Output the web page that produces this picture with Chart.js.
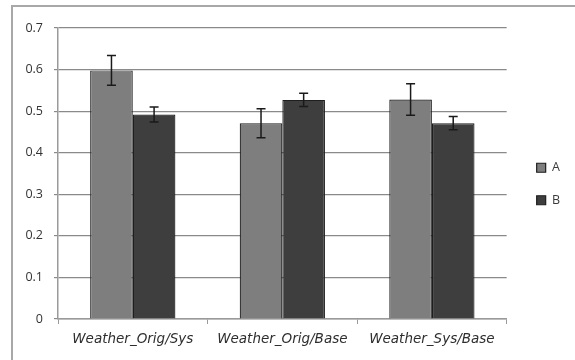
<!DOCTYPE html>
<html lang="en">

<head>
    <meta charset="UTF-8">
    <title>Weather A/B</title>
    <style>
        body {
            margin: 0;
            padding: 0;
            background-color: #fff;
        }
    </style>
</head>

<body>
    <canvas id="chart" width="575" height="360"></canvas>

    <script src="https://cdn.jsdelivr.net/npm/chart.js"></script>
    <script>
        const categories = ['Weather_Orig/Sys', 'Weather_Orig/Base', 'Weather_Sys/Base'];
        const seriesA = [0.598, 0.471, 0.528];
        const seriesB = [0.492, 0.527, 0.471];
        const errorsA = [0.036, 0.035, 0.038];
        const errorsB = [0.018, 0.016, 0.016];
        const yTicks = [0, 0.1, 0.2, 0.3, 0.4, 0.5, 0.6, 0.7];

        // light frame around the figure, cropped on the right and bottom
        const framePlugin = {
            id: 'frame',
            beforeDraw(chart) {
                const ctx = chart.ctx;
                ctx.save();
                ctx.strokeStyle = '#a8a8a8';
                ctx.lineWidth = 2;
                ctx.beginPath();
                ctx.moveTo(12, 360);
                ctx.lineTo(12, 6);
                ctx.lineTo(575, 6);
                ctx.stroke();
                ctx.restore();
            }
        };

        // error bars, taken from the errors arrays through the y scale
        const errorBarPlugin = {
            id: 'errorBars',
            afterDatasetsDraw(chart) {
                const ctx = chart.ctx;
                const yScale = chart.scales.y;
                chart.data.datasets.forEach((ds, di) => {
                    const meta = chart.getDatasetMeta(di);
                    meta.data.forEach((bar, i) => {
                        const v = ds.data[i];
                        const e = ds.errors[i];
                        const top = yScale.getPixelForValue(v + e);
                        const bottom = yScale.getPixelForValue(v - e);
                        ctx.save();
                        ctx.strokeStyle = '#1a1a1a';
                        ctx.lineWidth = 1.5;
                        ctx.beginPath();
                        ctx.moveTo(bar.x, top);
                        ctx.lineTo(bar.x, bottom);
                        ctx.moveTo(bar.x - 4.5, top);
                        ctx.lineTo(bar.x + 4.5, top);
                        ctx.moveTo(bar.x - 4.5, bottom);
                        ctx.lineTo(bar.x + 4.5, bottom);
                        ctx.stroke();
                        ctx.restore();
                    });
                });
            }
        };

        // empty spacer axes, only there to place the plot and legend
        const spacer = size => ({
            display: true,
            afterFit(scale) {
                if (scale.isHorizontal()) scale.height = size;
                else scale.width = size;
            },
            grid: { display: false },
            border: { display: false },
            ticks: { display: false }
        });

        new Chart(document.getElementById('chart'), {
            type: 'bar',
            data: {
                labels: categories,
                datasets: [{
                    label: 'A',
                    data: seriesA,
                    errors: errorsA,
                    backgroundColor: '#7e7e7e',
                    borderColor: '#1e1e1e',
                    borderWidth: 1.2,
                }, {
                    label: 'B',
                    data: seriesB,
                    errors: errorsB,
                    backgroundColor: '#3e3e3e',
                    borderColor: '#1e1e1e',
                    borderWidth: 1.2,
                }]
            },
            options: {
                responsive: false,
                animation: false,
                layout: {
                    padding: { left: 0, right: 5, top: 8, bottom: 0 }
                },
                categoryPercentage: 0.57,
                barPercentage: 1.0,
                plugins: {
                    legend: {
                        position: 'right',
                        labels: {
                            boxWidth: 9,
                            boxHeight: 9,
                            padding: 20,
                            color: '#3a3a3a',
                            font: { family: 'Open Sans', size: 12.5 }
                        }
                    },
                    tooltip: { enabled: false }
                },
                scales: {
                    x: {
                        afterFit(scale) { scale.height = 41; },
                        grid: {
                            offset: true,
                            drawOnChartArea: false,
                            tickLength: 5,
                            color: '#9a9a9a'
                        },
                        border: { color: '#9a9a9a', width: 1.5 },
                        ticks: {
                            padding: 7,
                            maxRotation: 0,
                            autoSkip: false,
                            color: '#2e2e2e',
                            font: { family: 'DejaVu Sans', size: 13.5, style: 'italic' }
                        }
                    },
                    y: {
                        min: 0,
                        max: 0.7,
                        afterFit(scale) { scale.width = 58; },
                        afterBuildTicks(scale) {
                            scale.ticks = yTicks.map(v => ({ value: v }));
                        },
                        grid: {
                            color: '#8a8a8a',
                            tickLength: 4,
                            lineWidth: 1.2
                        },
                        border: { color: '#9a9a9a', width: 1.5 },
                        ticks: {
                            padding: 11,
                            autoSkip: false,
                            color: '#333',
                            font: { family: 'Open Sans', size: 12.5 },
                            callback: v => String(Math.round(v * 10) / 10)
                        }
                    },
                    gapRight: { position: 'right', ...spacer(10) },
                    gapTop: { position: 'top', ...spacer(20) }
                }
            },
            plugins: [framePlugin, errorBarPlugin]
        });
    </script>
</body>

</html>
